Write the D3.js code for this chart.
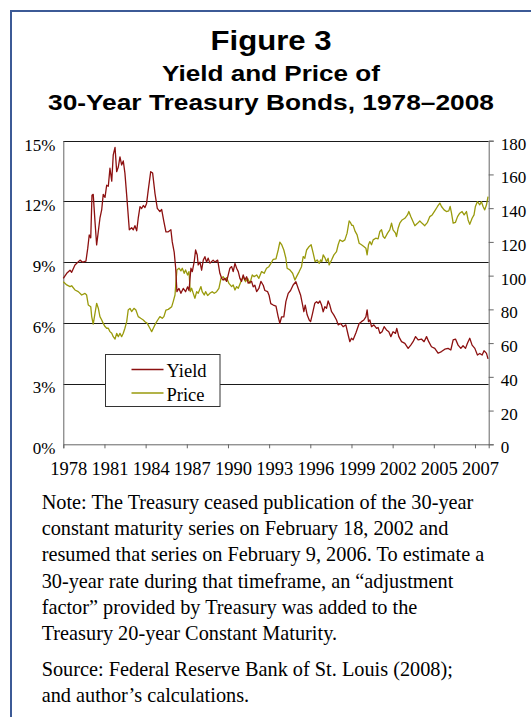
<!DOCTYPE html>
<html>
<head>
<meta charset="utf-8">
<script src="https://cdn.jsdelivr.net/npm/d3@7"></script>
<style>
  html, body { margin: 0; padding: 0; background: #fff; }
  svg { display: block; }
</style>
</head>
<body>
<svg id="chart" width="531" height="717"></svg>
<script>
// ---------- DATA ----------
const titleLines = ["Figure 3", "Yield and Price of", "30-Year Treasury Bonds, 1978\u20132008"];

const xTickValues = [1978, 1981, 1984, 1987, 1990, 1993, 1996, 1999, 2002, 2005, 2008];
const xTickLabels = ["1978", "1981", "1984", "1987", "1990", "1993", "1996", "1999", "2002", "2005", "2007"];
const yieldTicks = [0, 3, 6, 9, 12, 15];
const priceTicks = [0, 20, 40, 60, 80, 100, 120, 140, 160, 180];

const seriesNames = ["Yield", "Price"];

// 30-year yield, percent: [year, value]
const yieldSeries = [
  [1978.0, 8.2], [1978.25, 8.45], [1978.49, 8.6], [1978.61, 8.5], [1978.85, 8.86],
  [1979.22, 9.1], [1979.41, 9.0], [1979.65, 9.05], [1979.78, 9.68], [1979.89, 10.34],
  [1980.0, 10.2], [1980.09, 12.3], [1980.18, 12.35], [1980.31, 11.0], [1980.43, 9.85],
  [1980.67, 11.17], [1980.8, 11.6], [1980.91, 12.35], [1981.04, 12.2], [1981.16, 12.8],
  [1981.28, 12.75], [1981.4, 13.64], [1981.53, 13.0], [1981.64, 14.3], [1981.77, 14.67],
  [1981.89, 13.47], [1982.01, 13.7], [1982.13, 14.2], [1982.25, 13.8], [1982.37, 14.0],
  [1982.49, 13.4], [1982.62, 12.3], [1982.81, 10.6], [1982.98, 10.7], [1983.1, 10.6],
  [1983.22, 10.8], [1983.35, 10.55], [1983.46, 11.17], [1983.59, 11.74], [1983.71, 11.65],
  [1983.83, 11.8], [1983.95, 11.7], [1984.07, 11.9], [1984.19, 12.56], [1984.37, 13.47],
  [1984.51, 13.4], [1984.68, 12.4], [1984.85, 11.66], [1985.04, 11.5], [1985.17, 11.6],
  [1985.33, 11.0], [1985.48, 10.5], [1985.65, 10.5], [1985.84, 10.6], [1985.94, 10.0],
  [1986.08, 9.5], [1986.19, 8.7], [1986.28, 7.54], [1986.43, 7.7], [1986.57, 7.46],
  [1986.74, 7.7], [1986.91, 7.54], [1987.06, 7.78], [1987.16, 7.6], [1987.3, 8.7],
  [1987.4, 8.53], [1987.54, 9.02], [1987.64, 9.6], [1987.76, 9.35], [1987.83, 8.86],
  [1987.96, 9.0], [1988.08, 8.6], [1988.2, 9.1], [1988.32, 9.27], [1988.44, 9.0],
  [1988.56, 9.2], [1988.68, 8.95], [1988.92, 9.1], [1989.05, 9.0], [1989.25, 9.1],
  [1989.41, 8.45], [1989.54, 8.2], [1989.65, 8.12], [1989.78, 8.2], [1989.9, 8.05],
  [1990.02, 8.37], [1990.14, 8.7], [1990.27, 8.78], [1990.38, 8.53], [1990.51, 8.94],
  [1990.63, 8.7], [1990.75, 8.53], [1990.87, 8.2], [1990.99, 8.05], [1991.11, 8.37],
  [1991.23, 8.12], [1991.36, 8.28], [1991.47, 7.96], [1991.72, 8.05], [1991.84, 7.78],
  [1991.96, 7.86], [1992.09, 7.54], [1992.25, 7.7], [1992.4, 8.05], [1992.57, 7.86],
  [1992.69, 7.6], [1992.89, 7.54], [1993.0, 7.35], [1993.12, 6.95], [1993.3, 6.88],
  [1993.5, 6.83], [1993.66, 6.3], [1993.78, 5.98], [1993.91, 6.3], [1994.07, 6.3],
  [1994.22, 7.05], [1994.39, 7.46], [1994.56, 7.6], [1994.75, 7.87], [1994.95, 8.03],
  [1995.12, 7.7], [1995.29, 7.38], [1995.44, 6.88], [1995.53, 6.55], [1995.63, 6.88],
  [1995.77, 6.4], [1995.92, 6.14], [1996.02, 6.06], [1996.16, 6.46], [1996.33, 6.97],
  [1996.46, 7.05], [1996.57, 6.97], [1996.7, 7.08], [1996.82, 6.88], [1996.94, 6.55],
  [1997.06, 6.8], [1997.18, 6.72], [1997.3, 7.08], [1997.42, 6.88], [1997.55, 6.55],
  [1997.72, 6.38], [1997.91, 6.14], [1998.03, 5.9], [1998.2, 5.97], [1998.39, 5.81],
  [1998.59, 5.9], [1998.76, 5.4], [1998.88, 5.07], [1999.0, 5.24], [1999.12, 5.16],
  [1999.32, 5.5], [1999.44, 5.73], [1999.56, 5.97], [1999.73, 6.06], [1999.9, 6.14],
  [2000.05, 6.3], [2000.14, 6.64], [2000.24, 6.06], [2000.34, 6.14], [2000.46, 5.81],
  [2000.63, 5.9], [2000.83, 5.73], [2000.94, 5.77], [2001.07, 5.48], [2001.23, 5.56],
  [2001.38, 5.81], [2001.55, 5.65], [2001.72, 5.56], [2001.87, 5.32], [2002.03, 5.56],
  [2002.21, 5.48], [2002.3, 5.73], [2002.45, 5.32], [2002.65, 5.07], [2002.89, 4.99],
  [2003.13, 4.74], [2003.32, 4.9], [2003.49, 5.07], [2003.67, 5.32], [2003.86, 5.16],
  [2004.1, 5.2], [2004.29, 5.07], [2004.47, 5.32], [2004.63, 5.07], [2004.83, 4.82],
  [2005.07, 4.74], [2005.31, 4.5], [2005.56, 4.58], [2005.8, 4.7], [2006.04, 4.74],
  [2006.24, 4.66], [2006.41, 5.16], [2006.58, 5.2], [2006.77, 4.9], [2006.97, 4.74],
  [2007.13, 4.87], [2007.31, 4.74], [2007.45, 4.99], [2007.62, 5.24], [2007.79, 4.9],
  [2007.99, 4.74], [2008.18, 4.41], [2008.35, 4.49], [2008.52, 4.41], [2008.66, 4.62],
  [2008.84, 4.49], [2008.95, 4.22]
];

// Bond price index: [year, value]
const priceSeries = [
  [1978.0, 96.4], [1978.25, 94.5], [1978.49, 93.5], [1978.61, 94], [1978.85, 91.5],
  [1979.09, 90.5], [1979.34, 88.5], [1979.58, 89.5], [1979.7, 88.5], [1979.82, 82.6],
  [1980.0, 81.6], [1980.07, 75.7], [1980.18, 71.2], [1980.31, 77.6], [1980.43, 83.6],
  [1980.55, 80.7], [1980.67, 75.7], [1980.8, 73.7], [1980.91, 71.7], [1981.04, 69.8],
  [1981.16, 68.8], [1981.28, 68.8], [1981.4, 66.8], [1981.53, 65.8], [1981.64, 63.8],
  [1981.77, 62.4], [1981.89, 65.8], [1982.01, 63.8], [1982.13, 65.8], [1982.25, 63.8],
  [1982.37, 65.8], [1982.49, 68.8], [1982.62, 72.7], [1982.73, 79.6], [1982.86, 80.6],
  [1982.98, 78.7], [1983.15, 80.6], [1983.29, 79.6], [1983.46, 75.7], [1983.64, 74.7],
  [1983.83, 73.7], [1983.95, 72.7], [1984.12, 71.7], [1984.31, 68.8], [1984.44, 66.8],
  [1984.56, 68.8], [1984.73, 71.7], [1984.88, 73.7], [1985.04, 75.7], [1985.21, 74.7],
  [1985.33, 75.7], [1985.48, 79.6], [1985.65, 80.0], [1985.9, 81.6], [1986.01, 84.6],
  [1986.14, 88.5], [1986.21, 96.4], [1986.28, 103.4], [1986.43, 104.4], [1986.57, 102.8],
  [1986.67, 104.4], [1986.81, 101.4], [1986.91, 103.4], [1987.06, 100.4], [1987.16, 102.4],
  [1987.25, 90.5], [1987.35, 92.5], [1987.47, 89.5], [1987.59, 86.6], [1987.72, 90.5],
  [1987.83, 89.5], [1988.03, 93.5], [1988.12, 90.5], [1988.27, 88.5], [1988.37, 90.5],
  [1988.52, 88.2], [1988.68, 89.5], [1988.85, 90.5], [1989.0, 89.5], [1989.17, 90.5],
  [1989.34, 92.5], [1989.49, 98.4], [1989.65, 99.4], [1989.78, 97.4], [1989.9, 98.8],
  [1990.07, 95.4], [1990.27, 93.5], [1990.38, 94.5], [1990.51, 91.5], [1990.63, 93.5],
  [1990.75, 92.5], [1990.94, 96.4], [1991.11, 99.4], [1991.28, 96.4], [1991.43, 98.4],
  [1991.6, 95.4], [1991.77, 100.4], [1991.91, 99.4], [1992.09, 100.4], [1992.25, 98.4],
  [1992.45, 102.4], [1992.64, 101.4], [1992.81, 104.4], [1992.98, 105.3], [1993.13, 107.3],
  [1993.3, 109.7], [1993.5, 110], [1993.66, 115.2], [1993.78, 119.8], [1993.91, 118.4],
  [1994.07, 115.2], [1994.22, 110.3], [1994.31, 104.4], [1994.51, 103.4], [1994.71, 101.4],
  [1994.88, 97.4], [1995.0, 99.4], [1995.19, 102.4], [1995.36, 105.3], [1995.48, 111.3],
  [1995.6, 110.3], [1995.73, 115.2], [1995.92, 117.3], [1996.06, 118.3], [1996.21, 113.3],
  [1996.35, 108.3], [1996.5, 109.3], [1996.65, 107.3], [1996.75, 109.3], [1996.84, 108.3],
  [1996.94, 112.3], [1997.06, 110.7], [1997.18, 108.3], [1997.3, 110.3], [1997.37, 106.4],
  [1997.55, 109.3], [1997.72, 112.3], [1997.91, 114.2], [1998.03, 118.3], [1998.15, 121.2],
  [1998.35, 120.2], [1998.52, 121.2], [1998.68, 125.2], [1998.83, 132.4], [1998.93, 131.4],
  [1999.03, 129.8], [1999.12, 129.8], [1999.27, 126.2], [1999.41, 124.2], [1999.56, 119.2],
  [1999.73, 118.3], [1999.9, 117.3], [2000.05, 116.3], [2000.14, 112.3], [2000.24, 118.3],
  [2000.34, 120.2], [2000.46, 118.3], [2000.58, 121.2], [2000.77, 122.2], [2000.94, 121.8],
  [2001.07, 126.2], [2001.19, 127.2], [2001.31, 123.2], [2001.43, 122.2], [2001.63, 125.2],
  [2001.79, 127.1], [2001.92, 131.1], [2002.03, 127.1], [2002.21, 125.2], [2002.28, 123.2],
  [2002.4, 128.1], [2002.52, 131.1], [2002.69, 133], [2002.89, 134], [2003.08, 136],
  [2003.18, 138], [2003.32, 135], [2003.49, 132], [2003.62, 129.6], [2003.81, 131],
  [2003.98, 132.4], [2004.15, 131], [2004.34, 129.6], [2004.54, 131.6], [2004.71, 135],
  [2004.88, 136], [2005.07, 138.4], [2005.27, 141], [2005.44, 143], [2005.56, 141],
  [2005.75, 139], [2005.92, 138], [2006.09, 138.4], [2006.19, 141], [2006.29, 137],
  [2006.41, 131.1], [2006.58, 131.6], [2006.73, 135], [2006.89, 137], [2007.06, 138],
  [2007.21, 136], [2007.38, 138], [2007.5, 133], [2007.62, 130.4], [2007.79, 134],
  [2007.93, 136], [2008.03, 141], [2008.18, 143.9], [2008.35, 142], [2008.47, 143.9],
  [2008.59, 141], [2008.71, 139], [2008.84, 142], [2008.95, 146.9]
];

const noteLines = [
  "Note: The Treasury ceased publication of the 30-year",
  "constant maturity series on February 18, 2002 and",
  "resumed that series on February 9, 2006. To estimate a",
  "30-year rate during that timeframe, an \u201cadjustment",
  "factor\u201d provided by Treasury was added to the",
  "Treasury 20-year Constant Maturity."
];
const sourceLines = [
  "Source: Federal Reserve Bank of St. Louis (2008);",
  "and author\u2019s calculations."
];

// ---------- DRAWING ----------
const svg = d3.select("#chart");
const serif = "'Liberation Serif', 'Times New Roman', serif";
const sans = "'Liberation Sans', Arial, sans-serif";
const colors = { Yield: "#8c1010", Price: "#999a0c" };

// frame
svg.append("rect").attr("x", 11).attr("y", 11).attr("width", 560).attr("height", 760)
  .attr("fill", "none").attr("stroke", "#3c5a96").attr("stroke-width", 2);

// title
const titleSpec = [
  { size: 27, y: 50, width: 121 },
  { size: 22, y: 81, width: 218 },
  { size: 22, y: 110, width: 446 }
];
titleLines.forEach((t, i) => {
  svg.append("text").attr("x", 271).attr("y", titleSpec[i].y)
    .attr("text-anchor", "middle").attr("font-family", sans).attr("font-weight", "bold")
    .attr("font-size", titleSpec[i].size)
    .attr("textLength", titleSpec[i].width).attr("lengthAdjust", "spacingAndGlyphs")
    .attr("fill", "#000").text(t);
});

const L = 63.3, R = 488.7, T = 140.7, B = 444.3;
const x = d3.scaleLinear().domain([1978, 2009]).range([L, R]);
const yL = d3.scaleLinear().domain([0, 15]).range([B, T]);
const yR = d3.scaleLinear().domain([0, 180]).range([B, T]);

// gridlines
svg.append("g").selectAll("line").data(yieldTicks.filter(d => d > 0)).join("line")
  .attr("x1", L).attr("x2", R)
  .attr("y1", d => Math.round(yL(d)) + 0.5).attr("y2", d => Math.round(yL(d)) + 0.5)
  .attr("stroke", "#1a1a1a").attr("stroke-width", 1);

// left axis
const leftAxis = svg.append("g").attr("transform", `translate(${L},0)`)
  .call(d3.axisLeft(yL).tickValues(yieldTicks).tickSize(0).tickPadding(8)
    .tickFormat(d => d + "%"));
leftAxis.select(".domain").attr("stroke", "#666");
leftAxis.selectAll("text").attr("font-family", serif).attr("font-size", 17).attr("fill", "#000")
  .attr("dy", "0.55em");

// right axis
const rightAxis = svg.append("g").attr("transform", `translate(${R},0)`)
  .call(d3.axisRight(yR).tickValues(priceTicks).tickSize(5).tickPadding(7));
rightAxis.select(".domain").attr("stroke", "#666");
rightAxis.selectAll(".tick line").attr("stroke", "#666");
rightAxis.selectAll("text").attr("font-family", serif).attr("font-size", 17).attr("fill", "#000")
  .attr("dy", "0.5em");

// bottom axis
const bottomAxis = svg.append("g").attr("transform", `translate(0,${B})`)
  .call(d3.axisBottom(x).tickValues(xTickValues).tickSize(4).tickPadding(14)
    .tickFormat((d, i) => xTickLabels[i]));
bottomAxis.select(".domain").attr("stroke", "#666");
bottomAxis.selectAll(".tick line").attr("stroke", "#666");
bottomAxis.selectAll("text").attr("font-family", serif).attr("font-size", 18.5).attr("fill", "#000")
  .attr("dx", 5);

// series lines
const lineY = d3.line().x(d => x(d[0])).y(d => yL(d[1]));
const lineP = d3.line().x(d => x(d[0])).y(d => yR(d[1]));
svg.append("path").datum(priceSeries).attr("d", lineP)
  .attr("fill", "none").attr("stroke", colors.Price).attr("stroke-width", 1.3)
  .attr("stroke-linejoin", "round");
svg.append("path").datum(yieldSeries).attr("d", lineY)
  .attr("fill", "none").attr("stroke", colors.Yield).attr("stroke-width", 1.3)
  .attr("stroke-linejoin", "round");

// legend
const lg = svg.append("g");
lg.append("rect").attr("x", 105.5).attr("y", 354.5).attr("width", 114.5).attr("height", 52)
  .attr("fill", "#fff").attr("stroke", "#333").attr("stroke-width", 1);
seriesNames.forEach((name, i) => {
  const cy = 369.5 + i * 23.5;
  lg.append("line").attr("x1", 131.5).attr("x2", 163.5).attr("y1", cy).attr("y2", cy)
    .attr("stroke", colors[name]).attr("stroke-width", 1.3);
  lg.append("text").attr("x", 166.5).attr("y", cy + 7.5)
    .attr("font-family", serif).attr("font-size", 18.5).attr("fill", "#000").text(name);
});

// note & source
noteLines.forEach((t, i) => {
  svg.append("text").attr("x", 41.7).attr("y", 509 + i * 26.2)
    .attr("font-family", serif).attr("font-size", 20.3).attr("fill", "#000").text(t);
});
sourceLines.forEach((t, i) => {
  svg.append("text").attr("x", 41.7).attr("y", 675.7 + i * 26.2)
    .attr("font-family", serif).attr("font-size", 20.3).attr("fill", "#000").text(t);
});
</script>
</body>
</html>
